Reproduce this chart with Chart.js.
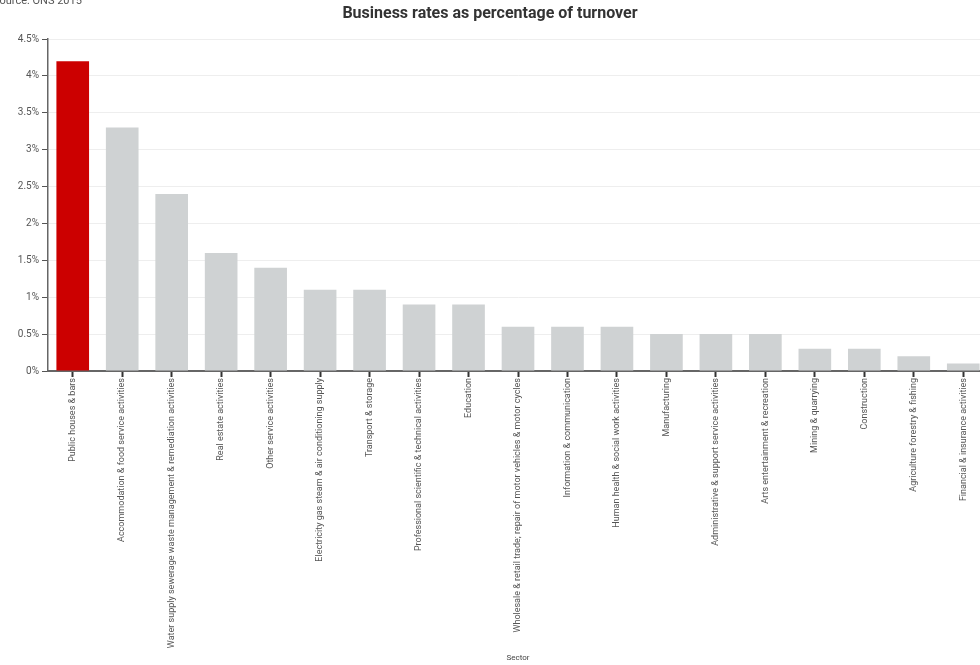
<!DOCTYPE html>
<html>
<head>
<meta charset="utf-8">
<script src="https://cdn.jsdelivr.net/npm/chart.js@4/dist/chart.umd.min.js"></script>
<style>
  html, body { margin: 0; padding: 0; background: #fff; overflow: hidden; }
  #wrap { position: relative; width: 988px; height: 665px; }
</style>
</head>
<body>
<div id="wrap"><canvas id="rates-chart"></canvas></div>
<script>
// Business rates as percentage of turnover, by sector (ONS 2015)
const sectors = [
  "Public houses & bars",
  "Accommodation & food service activities",
  "Water supply sewerage waste management & remediation activities",
  "Real estate activities",
  "Other service activities",
  "Electricity gas steam & air conditioning supply",
  "Transport & storage",
  "Professional scientific & technical activities",
  "Education",
  "Wholesale & retail trade; repair of motor vehicles & motor cycles",
  "Information & communication",
  "Human health & social work activities",
  "Manufacturing",
  "Administrative & support service activities",
  "Arts entertainment & recreation",
  "Mining & quarrying",
  "Construction",
  "Agriculture forestry & fishing",
  "Financial & insurance activities"
];
const ratePct = [4.2, 3.3, 2.4, 1.6, 1.4, 1.1, 1.1, 0.9, 0.9, 0.6, 0.6, 0.6, 0.5, 0.5, 0.5, 0.3, 0.3, 0.2, 0.1];
const yTicks = [0, 0.5, 1, 1.5, 2, 2.5, 3, 3.5, 4, 4.5];

const highlight = "#cc0000";
const normal = "#cfd2d3";
const barColors = sectors.map((s, i) => i === 0 ? highlight : normal);

// title + source line drawn on top of the canvas
const headerPlugin = {
  id: "header",
  afterDraw(chart) {
    const c = chart.ctx;
    c.save();
    c.fillStyle = "#333";
    c.font = "bold 16px 'Liberation Sans Narrow', 'Roboto', sans-serif";
    c.textAlign = "center";
    c.textBaseline = "middle";
    c.fillText("Business rates as percentage of turnover", 490, 14);
    c.fillStyle = "#555";
    c.font = "11px 'Roboto', sans-serif";
    c.textAlign = "left";
    c.fillText("Source: ONS 2015", -7, 1);
    c.restore();
  }
};

var ctx = document.getElementById("rates-chart");

var config = {
  type: "bar",
  data: {
    labels: sectors,
    datasets: [{
      label: "Business rates",
      data: ratePct,
      backgroundColor: barColors,
      barPercentage: 0.66,
      categoryPercentage: 1
    }]
  },
  options: {
    responsive: true,
    maintainAspectRatio: false,
    animation: false,
    layout: { padding: { top: 39, left: 0, right: 0, bottom: 0 } },
    plugins: {
      legend: { display: false },
      tooltip: { enabled: false }
    },
    scales: {
      x: {
        offset: true,
        grid: {
          offset: false,
          drawOnChartArea: false,
          drawTicks: true,
          tickLength: 6,
          tickColor: "#333",
          tickWidth: 2
        },
        border: { color: "#666", width: 2 },
        ticks: {
          autoSkip: false,
          minRotation: 90,
          maxRotation: 90,
          padding: 1,
          color: "#555",
          font: { family: "Roboto", size: 9 }
        },
        title: {
          display: true,
          text: "Sector",
          color: "#444",
          font: { family: "Roboto", size: 8 },
          padding: { top: 0, bottom: 2 }
        },
        afterFit(scale) { scale.height = 294; }
      },
      y: {
        min: 0,
        max: 4.5,
        afterBuildTicks(scale) { scale.ticks = yTicks.map(v => ({ value: v })); },
        grid: {
          color: "#eeeeee",
          tickColor: "#555",
          tickLength: 6,
          lineWidth: 1
        },
        border: { color: "#666", width: 1.5 },
        ticks: {
          color: "#555",
          padding: 3,
          font: { family: "Roboto", size: 10 },
          callback: v => v + "%"
        },
        afterFit(scale) { scale.width = 48; }
      }
    }
  },
  plugins: [headerPlugin]
};

var ratesChart = new Chart(ctx, config);
</script>
</body>
</html>
